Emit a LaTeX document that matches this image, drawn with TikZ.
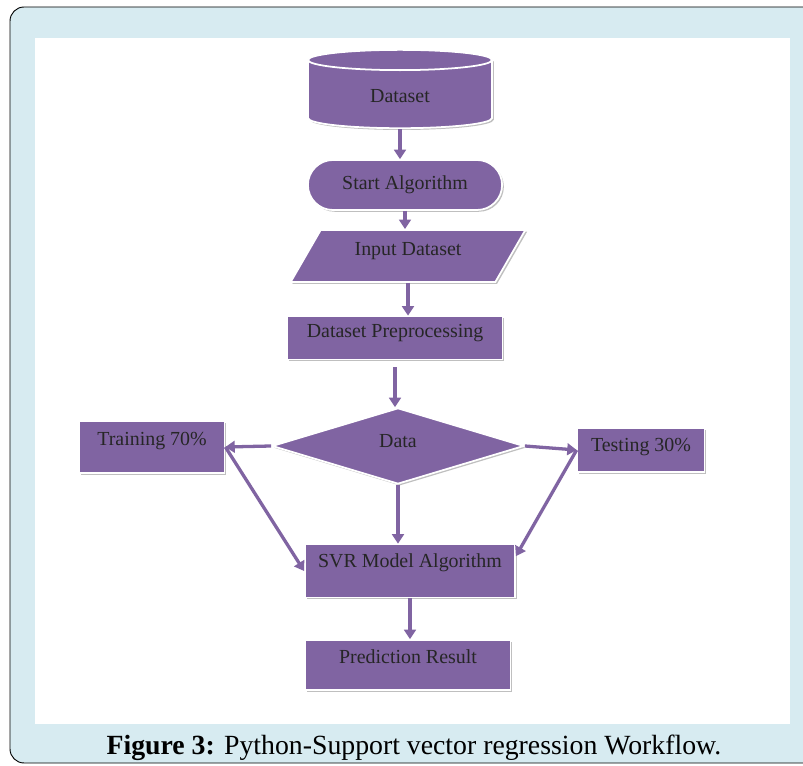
\documentclass[tikz,border=0pt]{standalone}
\usepackage{fontspec}
\setmainfont{Liberation Serif}
\usetikzlibrary{shapes.geometric, shapes.misc, arrows.meta, shadows}
\definecolor{boxpurple}{RGB}{128,100,162}
\definecolor{framebg}{RGB}{215,235,241}

\begin{document}
\begin{tikzpicture}[x=0.03cm, y=-0.03cm,
    box/.style = {draw=white, line width=1.5pt, fill=boxpurple, text=black!85,
        font=\fontsize{17}{20}\selectfont,
        drop shadow={shadow xshift=1.5pt, shadow yshift=-1.5pt, fill=black!50, opacity=0.5}},
    lift/.style = {text depth=#1},
    flow/.style = {boxpurple, line width=2.8pt, -{Triangle[length=8pt, width=10pt]}}]
    \useasboundingbox (0,0) rectangle (803,766);
    \filldraw[fill=framebg, draw=black, line width=0.8pt, rounded corners=12pt] (10,7) rectangle (840,763);
    \fill[white] (35,38) rectangle (790,724);

    \node[box, cylinder, shape border rotate=90, aspect=0.3, minimum width=5.52cm, minimum height=2.35cm] at (400, 96) (dataset) {Dataset};
    \node[box, rounded rectangle, minimum width=6.06cm, minimum height=1.5cm] at (405, 185) (start) {Start Algorithm};
    \node[box, lift=0.4cm, trapezium, trapezium left angle=60, trapezium right angle=120, minimum width=7.05cm, minimum height=1.29cm] at (408, 256) (input) {Input Dataset};
    \node[box, lift=0.4cm, rectangle, minimum width=6.45cm, minimum height=1.29cm] at (395, 338) (prep) {Dataset Preprocessing};
    \node[box, lift=0.3cm, diamond, aspect=3.3, minimum width=7.56cm, minimum height=2.28cm] at (398, 446) (data) {Data};
    \node[box, lift=0.5cm, rectangle, minimum width=4.35cm, minimum height=1.56cm] at (152, 447) (train) {Training 70\%};
    \node[box, lift=0.3cm, rectangle, minimum width=3.81cm, minimum height=1.32cm] at (641, 450) (test) {Testing 30\%};
    \node[box, lift=0.6cm, rectangle, minimum width=6.3cm, minimum height=1.59cm] at (410, 571) (svr) {SVR Model Algorithm};
    \node[box, lift=0.5cm, rectangle, minimum width=6.15cm, minimum height=1.5cm] at (408, 665) (pred) {Prediction Result};

    \node at (414, 748) (caption) {\fontsize{23.7}{27}\selectfont\textbf{Figure 3:} Python-Support vector regression Workflow.};

    \draw[flow] (dataset.south) -- (dataset.south |- start.north);
    \draw[flow] (start.south) -- (start.south |- input.north);
    \draw[flow] (input.south) -- (input.south |- prep.north);
    \draw[flow, shorten <=6pt] (prep.south) -- (prep.south |- data.north);
    \draw[flow] (data.west) -- (train.east);
    \draw[flow] (data.east) -- (test.west);
    \draw[flow] (data.south) -- (data.south |- svr.north);
    \draw[flow] (train.east) -- (svr.west);
    \draw[flow] (test.west) -- (svr.8);
    \draw[flow] (svr.south) -- (svr.south |- pred.north);
\end{tikzpicture}
\end{document}
